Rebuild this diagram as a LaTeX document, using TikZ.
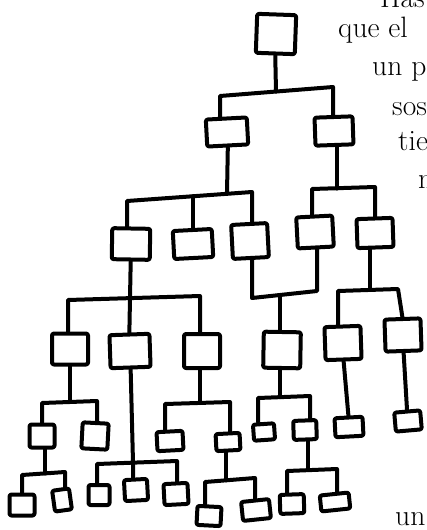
\documentclass[tikz,border=0pt]{standalone}
\begin{document}
\begin{tikzpicture}[x=1pt,y=-1pt,
  box/.style={draw, line width=4pt, rounded corners=2pt, inner sep=0pt, line join=round},
  conn/.style={line width=4pt, line join=round, line cap=round},
  word/.style={anchor=base west, inner sep=0pt, font=\fontsize{29.5}{36}\selectfont}]
\useasboundingbox (0,0) rectangle (426,530);
\clip (0,0) rectangle (426,530);
\newcommand\bx[6]{\node[box, minimum width=#4pt, minimum height=#5pt, rotate=#6] (#1) at (#2,#3) {};}
% boxes
\bx{R}{276}{34}{39}{39}{-2}
\bx{L2a}{227}{132}{41}{27}{3}
\bx{L2b}{334}{131}{38}{28}{2}
\bx{L3a}{131}{244}{38}{31}{-1}
\bx{L3b}{193}{244}{39}{28}{3}
\bx{L3c}{250}{241}{36}{34}{3}
\bx{L3d}{315}{232}{36}{31}{3}
\bx{L3e}{375}{233}{36}{29}{2}
\bx{L4a}{70}{349}{36}{31}{0}
\bx{L4b}{130}{351}{40}{33}{2}
\bx{L4c}{202}{351}{36}{34}{0}
\bx{L4d}{282}{350}{37}{36}{-1}
\bx{L4e}{343}{343}{36}{33}{2}
\bx{L4f}{403}{335}{36}{32}{2}
\bx{L5a}{42}{436}{25}{23}{0}
\bx{L5b}{95}{436}{26}{26}{-3}
\bx{L5c}{170}{441}{26}{19}{3}
\bx{L5d}{228}{442}{24}{17}{3}
\bx{L5e}{264}{432}{21}{16}{4}
\bx{L5f}{305}{430}{23}{19}{2}
\bx{L5g}{349}{427}{28}{19}{3}
\bx{L5h}{408}{421}{26}{19}{5}
\bx{L6a}{22}{505}{25}{21}{0}
\bx{L6b}{62}{500}{17}{21}{8}
\bx{L6c}{99}{495}{21}{20}{0}
\bx{L6d}{136}{490}{23}{21}{3}
\bx{L6e}{176}{494}{24}{21}{3}
\bx{L6f}{209}{516}{24}{19}{-3}
\bx{L6g}{256}{510}{28}{19}{6}
\bx{L6h}{292}{504}{24}{19}{2}
\bx{L6i}{335}{502}{29}{16}{6}
% root
\coordinate (a0) at (276,91.5); \coordinate (a1) at (220,96); \coordinate (a2) at (333,87);
\draw[conn] (R.south) -- (a0);
\draw[conn] (a1 |- L2a.north) -- (a1) -- (a2) -- (a2 |- L2b.north);
% L2a
\coordinate (b0) at (227,193.8); \coordinate (b1) at (127,201); \coordinate (b2) at (193,196.2); \coordinate (b3) at (252,192);
\draw[conn] (L2a.south) -- (b0);
\draw[conn] (b1 |- L3a.north) -- (b1) -- (b3) -- (b3 |- L3c.north);
\draw[conn] (b2) -- (b2 |- L3b.north);
% L2b
\coordinate (c0) at (337,188.6); \coordinate (c1) at (312,189); \coordinate (c2) at (375,187);
\draw[conn] (c0 |- L2b.south) -- (c0);
\draw[conn] (c1 |- L3d.north) -- (c1) -- (c2) -- (c2 |- L3e.north);
% L3a
\coordinate (d1) at (68,300); \coordinate (d2) at (200,296);
\draw[conn] (L3a.south) -- (L4b.north);
\draw[conn] (d1 |- L4a.north) -- (d1) -- (d2) -- (d2 |- L4c.north);
% L3c + L3d
\coordinate (e1) at (252,298); \coordinate (e2) at (317,291); \coordinate (e0) at (280,295);
\draw[conn] (e1 |- L3c.south) -- (e1) -- (e2) -- (e2 |- L3d.south);
\draw[conn] (e0) -- (e0 |- L4d.north);
% L3e
\coordinate (f0) at (370,290); \coordinate (f1) at (338,291); \coordinate (f2) at (398,289);
\draw[conn] (f0 |- L3e.south) -- (f0);
\draw[conn] (f1 |- L4e.north) -- (f1) -- (f2) -- (L4f.north);
% L4a
\coordinate (g0) at (70,402); \coordinate (g1) at (42,403); \coordinate (g2) at (97,401);
\draw[conn] (L4a.south) -- (g0);
\draw[conn] (g1 |- L5a.north) -- (g1) -- (g2) -- (g2 |- L5b.north);
% L4b
\coordinate (h0) at (133,462.5); \coordinate (h1) at (97,464); \coordinate (h2) at (177,461);
\draw[conn] (L4b.south) -- (h0) -- (h0 |- L6d.north);
\draw[conn] (h1 |- L6c.north) -- (h1) -- (h2) -- (h2 |- L6e.north);
% L4c
\coordinate (i0) at (200,403); \coordinate (i1) at (165,404); \coordinate (i2) at (230,402);
\draw[conn] (i0 |- L4c.south) -- (i0);
\draw[conn] (i1 |- L5c.north) -- (i1) -- (i2) -- (i2 |- L5d.north);
% L5a
\coordinate (j0) at (45,473.5); \coordinate (j1) at (22,475); \coordinate (j2) at (65,472);
\draw[conn] (j0 |- L5a.south) -- (j0);
\draw[conn] (j1 |- L6a.north) -- (j1) -- (j2) -- (j2 |- L6b.north);
% L5d
\coordinate (k0) at (226,480.3); \coordinate (k1) at (205,482); \coordinate (k2) at (255,478);
\draw[conn] (k0 |- L5d.south) -- (k0);
\draw[conn] (k1 |- L6f.north) -- (k1) -- (k2) -- (k2 |- L6g.north);
% L4d
\coordinate (l0) at (280,397.2); \coordinate (l1) at (258,398); \coordinate (l2) at (310,396);
\draw[conn] (l0 |- L4d.south) -- (l0);
\draw[conn] (l1 |- L5e.north) -- (l1) -- (l2) -- (l2 |- L5f.north);
% L5f
\coordinate (m0) at (308,470); \coordinate (m1) at (287,471); \coordinate (m2) at (337,469);
\draw[conn] (m0 |- L5f.south) -- (m0);
\draw[conn] (m1 |- L6h.north) -- (m1) -- (m2) -- (m2 |- L6i.north);
% single stems
\draw[conn] (L4e.south) -- (L5g.north);
\draw[conn] (L4f.south) -- (L5h.north);
% text
\node[word] (t1) at (380,8) {Has};
\node[word] (t2) at (338,37) {que el};
\node[word] (t3) at (372,75) {un p};
\node[word] (t4) at (392,115) {sos};
\node[word] (t5) at (398,150) {tie};
\node[word] (t6) at (418,188) {n};
\node[word] (t7) at (395,525) {un};
\end{tikzpicture}
\end{document}
